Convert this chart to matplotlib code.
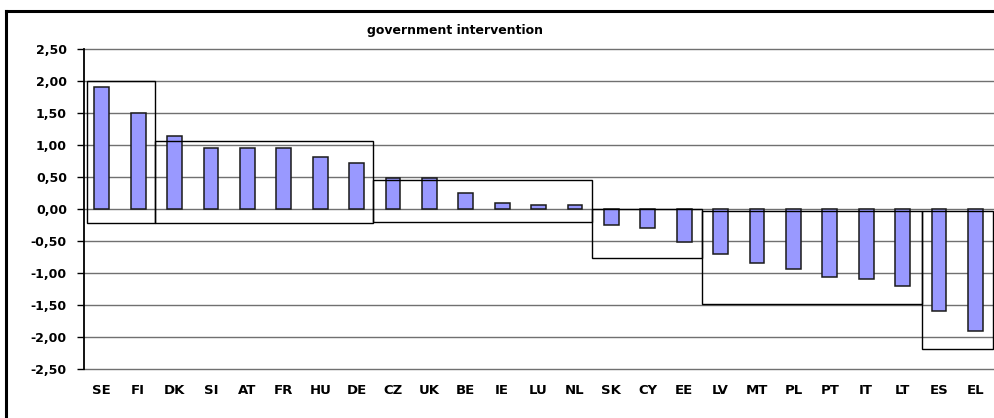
import matplotlib
matplotlib.use("Agg")
import matplotlib.pyplot as plt
from matplotlib.patches import Rectangle
from matplotlib.lines import Line2D
from matplotlib.ticker import FuncFormatter

plt.rcParams['font.family'] = ['DejaVu Sans']

title = "government intervention"
countries = ["SE", "FI", "DK", "SI", "AT", "FR", "HU", "DE", "CZ", "UK", "BE", "IE", "LU",
             "NL", "SK", "CY", "EE", "LV", "MT", "PL", "PT", "IT", "LT", "ES", "EL"]
values = [1.91, 1.50, 1.14, 0.96, 0.96, 0.96, 0.81, 0.72, 0.48, 0.48, 0.25, 0.10, 0.07,
          0.07, -0.25, -0.29, -0.51, -0.70, -0.84, -0.94, -1.06, -1.09, -1.21, -1.60, -1.90]
yticks = [2.5, 2.0, 1.5, 1.0, 0.5, 0.0, -0.5, -1.0, -1.5, -2.0, -2.5]

# cluster boxes: (x from, x to, y top, y bottom) in category / value units
group_x0 = [-0.41, 1.46, 7.45, 13.46, 16.48, 22.53]
group_x1 = [1.46, 7.45, 13.46, 16.48, 22.53, 24.48]
group_top = [2.00, 1.06, 0.46, 0.00, -0.03, -0.03]
group_bottom = [-0.22, -0.22, -0.21, -0.77, -1.49, -2.18]

W, H = 995, 418
fig = plt.figure(figsize=(W / 100, H / 100), dpi=100)
ax = fig.add_axes([83.6 / W, (H - 369) / H, 910 / W, 320 / H])

x = list(range(len(countries)))
ax.bar(x, values, width=0.41, color="#9999FF", edgecolor="#1a1a1a", linewidth=1.1, zorder=3)

ax.set_xlim(-0.5, len(countries) - 0.5)
ax.set_ylim(min(yticks), max(yticks))
ax.set_yticks(yticks)
ax.yaxis.set_major_formatter(FuncFormatter(lambda v, p: f"{v:.2f}".replace(".", ",")))
ax.set_xticks(x)
ax.set_xticklabels(countries)
ax.tick_params(axis="x", length=0, pad=11, labelsize=9.5)
ax.tick_params(axis="y", length=5, width=1, direction="out", pad=7, labelsize=9)
for lab in ax.get_xticklabels() + ax.get_yticklabels():
    lab.set_fontweight("bold")

for s in ["top", "right", "bottom"]:
    ax.spines[s].set_visible(False)
ax.spines["left"].set_linewidth(1.3)
ax.spines["left"].set_color("black")
for yv in yticks:
    ax.axhline(yv, color="#707070", linewidth=1.0, zorder=0 if yv != 0 else 2, clip_on=False)

for x0, x1, yt, yb in zip(group_x0, group_x1, group_top, group_bottom):
    ax.add_patch(Rectangle((x0, yb), x1 - x0, yt - yb, fill=False, edgecolor="black",
                           linewidth=1.0, zorder=4, clip_on=False))

fig.text(455 / W, 1 - 34.3 / H, title, ha="center", va="baseline", fontsize=9, fontweight="bold")

# outer frame (top and left edges visible in crop)
fig.add_artist(Line2D([6 / W, 1], [1 - 10.5 / H, 1 - 10.5 / H], color="black", linewidth=2.2,
                      transform=fig.transFigure))
fig.add_artist(Line2D([6 / W, 6 / W], [0, 1 - 10.5 / H], color="black", linewidth=2.2,
                      transform=fig.transFigure))

fig.savefig("out.png", dpi=100)
